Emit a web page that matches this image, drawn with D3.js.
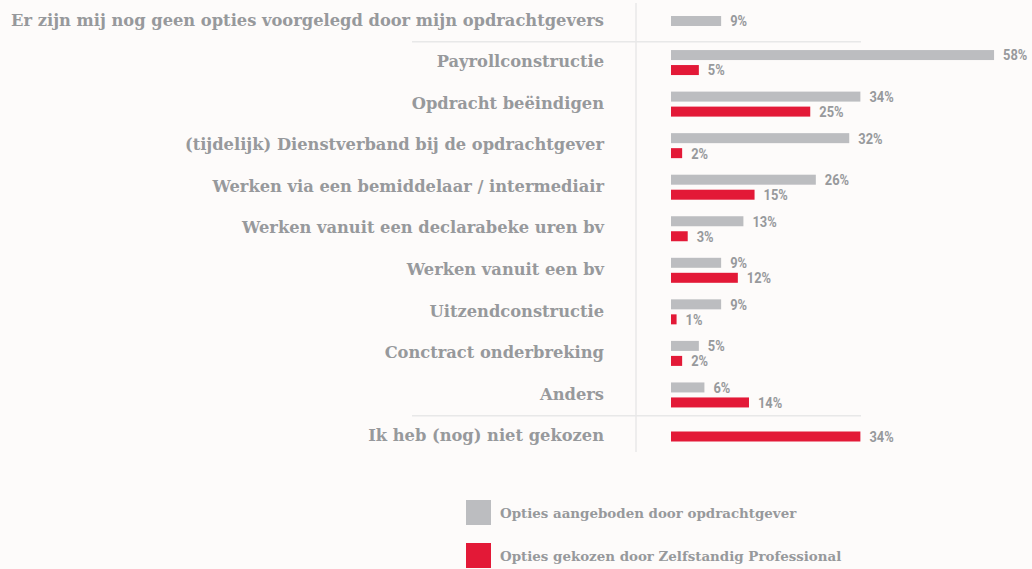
<!DOCTYPE html>
<html>
<head>
<meta charset="utf-8">
<script src="https://cdn.jsdelivr.net/npm/d3@7"></script>
<style>
  body { margin: 0; background: #fdfbfa; }
  svg { display: block; }
  .label { font-family: "DejaVu Serif", serif; font-weight: bold; fill: #97999c; }
  .val { font-family: Roboto, sans-serif; font-weight: bold; fill: #97999c; }
</style>
</head>
<body>
<div id="chart"></div>
<script>
// categories and the two series (percentages), null = no bar
var categories = [
  'Er zijn mij nog geen opties voorgelegd door mijn opdrachtgevers',
  'Payrollconstructie',
  'Opdracht beëindigen',
  '(tijdelijk) Dienstverband bij de opdrachtgever',
  'Werken via een bemiddelaar / intermediair',
  'Werken vanuit een declarabeke uren bv',
  'Werken vanuit een bv',
  'Uitzendconstructie',
  'Conctract onderbreking',
  'Anders',
  'Ik heb (nog) niet gekozen'
];
var offered = [9, 58, 34, 32, 26, 13, 9, 9, 5, 6, null];
var chosen  = [null, 5, 25, 2, 15, 3, 12, 1, 2, 14, 34];
var legendLabels = ['Opties aangeboden door opdrachtgever', 'Opties gekozen door Zelfstandig Professional'];

var W = 1032, H = 569;
var colGray = '#bcbdc0', colRed = '#e31937';

var svg = d3.select('#chart').append('svg')
  .attr('width', W)
  .attr('height', H);

svg.append('rect').attr('width', W).attr('height', H).attr('fill', '#fdfbfa');

var x = d3.scaleLinear().domain([0, 100]).range([671, 671 + 557]);
var y = d3.scalePoint().domain(d3.range(categories.length)).range([21, 436.5]);
var barH = 10, off = 7.5;

// dividers
svg.append('line')
  .attr('x1', 636).attr('x2', 636).attr('y1', 3).attr('y2', 452)
  .attr('stroke', '#e8e8e8').attr('stroke-width', 1.5);
[0.5, 9.5].forEach(function(i){
  var yy = (y(Math.floor(i)) + y(Math.ceil(i))) / 2;
  svg.append('line')
    .attr('x1', 412).attr('x2', 861).attr('y1', yy).attr('y2', yy)
    .attr('stroke', '#e8e8e8').attr('stroke-width', 1.5);
});

var rows = svg.selectAll('.row')
  .data(categories.map(function(c, i){ return {cat: c, a: offered[i], b: chosen[i], i: i}; }))
  .enter().append('g')
    .attr('class', 'row')
    .attr('transform', function(d){ return 'translate(0,' + y(d.i) + ')'; });

rows.append('text')
  .attr('class', 'label')
  .attr('x', 604)
  .attr('y', -1)
  .attr('dy', '0.35em')
  .attr('text-anchor', 'end')
  .attr('font-size', 16.3)
  .text(function(d){ return d.cat; });

function drawBar(key, color){
  var sel = rows.filter(function(d){ return d[key] != null; });
  function cy(d){
    var both = d.a != null && d.b != null;
    if(!both) return 0;
    return key == 'a' ? -off : off;
  }
  sel.append('rect')
    .attr('x', x(0))
    .attr('y', function(d){ return cy(d) - barH / 2; })
    .attr('width', function(d){ return x(d[key]) - x(0); })
    .attr('height', barH)
    .attr('fill', color);
  // condensed look for the value labels
  sel.append('text')
    .attr('class', 'val')
    .attr('transform', function(d){ return 'translate(' + (x(d[key]) + 9) + ',' + cy(d) + ') scale(0.86,1)'; })
    .attr('dy', '0.36em')
    .attr('font-size', 15)
    .text(function(d){ return d[key] + '%'; });
}
drawBar('a', colGray);
drawBar('b', colRed);

// legend
var legend = svg.selectAll('.leg')
  .data(legendLabels)
  .enter().append('g')
    .attr('class', 'leg')
    .attr('transform', function(d, i){ return 'translate(466,' + (500 + i * 43) + ')'; });
legend.append('rect')
  .attr('width', 25).attr('height', 25)
  .attr('fill', function(d, i){ return i == 0 ? colGray : colRed; });
legend.append('text')
  .attr('class', 'label')
  .attr('x', 34).attr('y', 13).attr('dy', '0.35em')
  .attr('font-size', 13.4)
  .text(function(d){ return d; });
</script>
</body>
</html>
